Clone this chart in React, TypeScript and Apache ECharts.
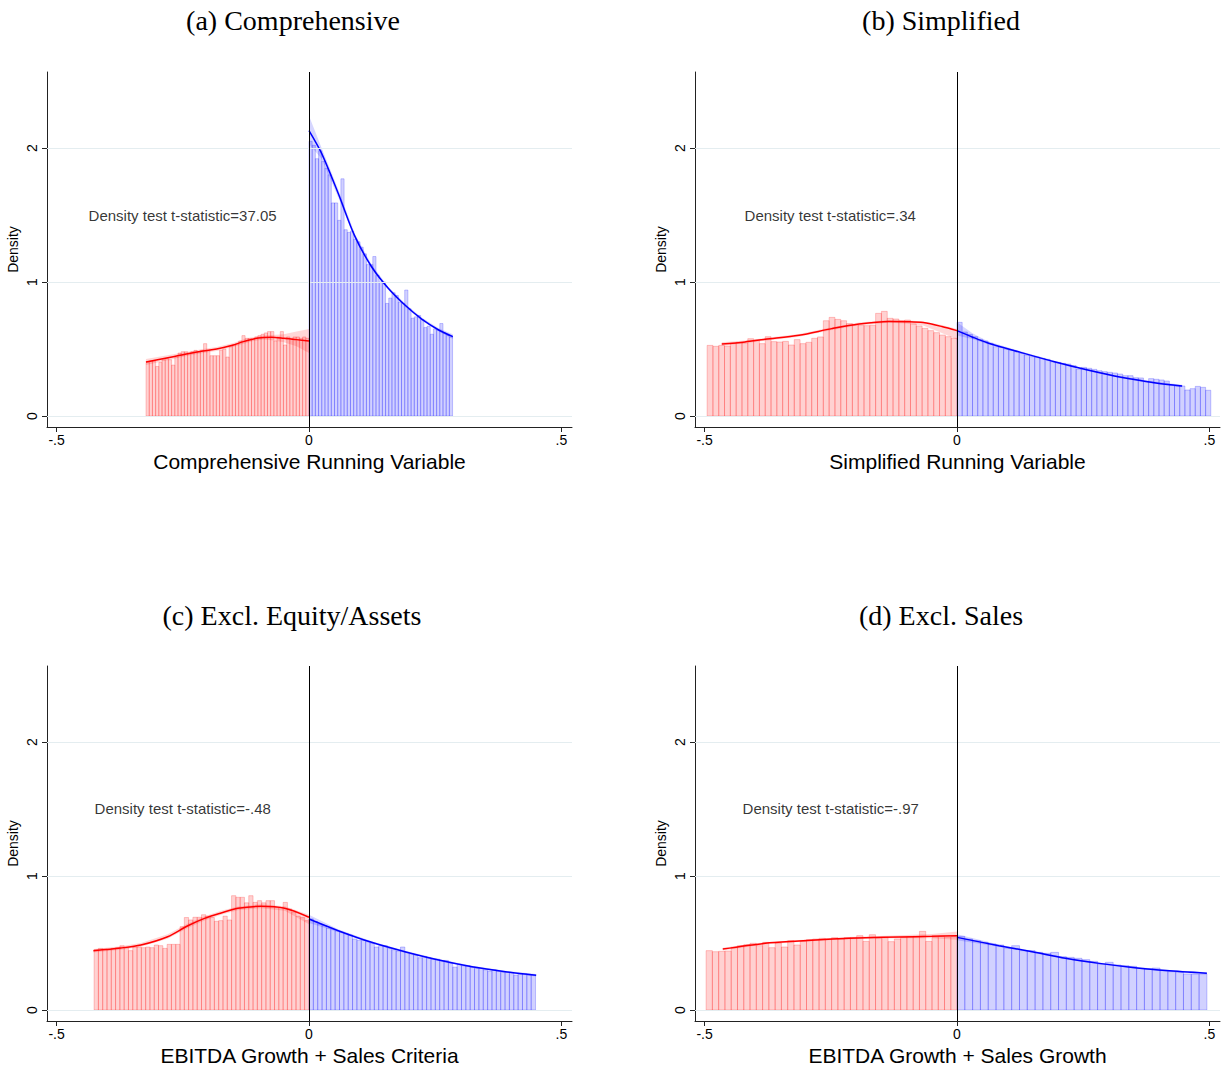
import React, { useEffect, useRef } from "react";
import * as echarts from "echarts";

// ---------- text ----------
const PANEL_TITLES = ["(a) Comprehensive", "(b) Simplified", "(c) Excl. Equity/Assets", "(d) Excl. Sales"];
const X_TITLES = [
  "Comprehensive Running Variable",
  "Simplified Running Variable",
  "EBITDA Growth + Sales Criteria",
  "EBITDA Growth + Sales Growth",
];
const STAT_TEXT = [
  "Density test t-statistic=37.05",
  "Density test t-statistic=.34",
  "Density test t-statistic=-.48",
  "Density test t-statistic=-.97",
];
const STAT_POS = [
  [-0.4376, 1.493],
  [-0.4218, 1.493],
  [-0.4257, 1.5],
  [-0.4257, 1.5],
];
const X_TICKS = [-0.5, 0, 0.5];
const Y_TICKS = [0, 1, 2];

// ---------- histogram bins (start, width) ----------
const A_RED_START = -0.3228, A_RED_BIN = 0.00633;
const A_BLUE_START = 0, A_BLUE_BIN = 0.00632;
const B_RED_START = -0.495, B_RED_BIN = 0.01151;
const B_BLUE_START = 0, B_BLUE_BIN = 0.01026;
const C_RED_START = -0.4257, C_RED_BIN = 0.00851;
const C_BLUE_START = 0, C_BLUE_BIN = 0.00863;
const D_RED_START = -0.497, D_RED_BIN = 0.01243;
const D_BLUE_START = 0, D_BLUE_BIN = 0.01547;

// ---------- histogram heights ----------
const A_RED = [
  0.40, 0.41, 0.41, 0.37, 0.40, 0.42, 0.43, 0.42, 0.38, 0.44,
  0.47, 0.48, 0.48, 0.47, 0.48, 0.49, 0.48, 0.49, 0.54, 0.49,
  0.45, 0.45, 0.45, 0.49, 0.50, 0.44, 0.52, 0.53, 0.54, 0.56,
  0.60, 0.58, 0.58, 0.57, 0.59, 0.60, 0.61, 0.62, 0.63, 0.63,
  0.56, 0.59, 0.63, 0.53, 0.59, 0.58, 0.59, 0.59, 0.58, 0.59,
  0.58,
];
const A_BLUE = [
  2.05, 2.02, 1.92, 1.98, 1.90, 1.85, 1.80, 1.59, 1.59, 1.46,
  1.77, 1.39, 1.37, 1.38, 1.32, 1.30, 1.26, 1.21, 1.13, 1.13,
  1.19, 1.05, 1.00, 1.00, 0.84, 0.88, 0.92, 0.90, 0.85, 0.84,
  0.94, 0.80, 0.73, 0.74, 0.75, 0.72, 0.66, 0.67, 0.61, 0.65,
  0.64, 0.69, 0.62, 0.60, 0.59,
];
const B_RED = [
  0.527, 0.52, 0.527, 0.522, 0.542, 0.55, 0.545, 0.577, 0.565, 0.54,
  0.592, 0.555, 0.552, 0.557, 0.53, 0.57, 0.54, 0.55, 0.58, 0.59,
  0.711, 0.736, 0.721, 0.711, 0.69, 0.684, 0.677, 0.674, 0.677, 0.766,
  0.781, 0.729, 0.724, 0.711, 0.716, 0.687, 0.672, 0.654, 0.637, 0.622,
  0.604, 0.592, 0.58,
];
const B_BLUE = [
  0.699, 0.627, 0.609, 0.592, 0.572, 0.56, 0.542, 0.517, 0.512, 0.5,
  0.493, 0.48, 0.468, 0.455, 0.443, 0.44, 0.43, 0.423, 0.405, 0.4,
  0.393, 0.388, 0.376, 0.348, 0.363, 0.356, 0.348, 0.338, 0.331, 0.326,
  0.321, 0.313, 0.301, 0.301, 0.286, 0.284, 0.256, 0.279, 0.274, 0.269,
  0.261, 0.231, 0.224, 0.224, 0.194, 0.204, 0.221, 0.214, 0.192,
];
const C_RED = [
  0.45, 0.46, 0.455, 0.45, 0.46, 0.465, 0.48, 0.465, 0.443, 0.47,
  0.47, 0.465, 0.47, 0.465, 0.485, 0.48, 0.46, 0.49, 0.49, 0.49,
  0.622, 0.69, 0.672, 0.692, 0.692, 0.711, 0.70, 0.69, 0.662, 0.667,
  0.70, 0.672, 0.853, 0.841, 0.841, 0.80, 0.853, 0.803, 0.816, 0.80,
  0.816, 0.816, 0.766, 0.766, 0.803, 0.754, 0.729, 0.70, 0.69, 0.667,
];
const C_BLUE = [
  0.68, 0.66, 0.64, 0.63, 0.61, 0.60, 0.59, 0.58, 0.57, 0.56,
  0.53, 0.52, 0.52, 0.51, 0.50, 0.47, 0.48, 0.48, 0.46, 0.45,
  0.44, 0.47, 0.43, 0.42, 0.41, 0.39, 0.40, 0.39, 0.38, 0.38,
  0.37, 0.37, 0.35, 0.32, 0.34, 0.33, 0.33, 0.32, 0.31, 0.31,
  0.30, 0.29, 0.30, 0.29, 0.28, 0.28, 0.28, 0.26, 0.27, 0.27,
  0.26, 0.26,
];
const D_RED = [
  0.443, 0.435, 0.438, 0.44, 0.468, 0.48, 0.488, 0.498, 0.48, 0.505,
  0.465, 0.5, 0.47, 0.517, 0.485, 0.512, 0.525, 0.53, 0.535, 0.53,
  0.54, 0.53, 0.54, 0.542, 0.555, 0.512, 0.562, 0.535, 0.542, 0.51,
  0.53, 0.542, 0.547, 0.55, 0.587, 0.512, 0.542, 0.55, 0.542, 0.547,
];
const D_BLUE = [
  0.55, 0.53, 0.517, 0.505, 0.493, 0.485, 0.46, 0.48, 0.443, 0.443,
  0.43, 0.423, 0.43, 0.398, 0.393, 0.386, 0.376, 0.363, 0.343, 0.356,
  0.336, 0.331, 0.326, 0.311, 0.306, 0.313, 0.294, 0.286, 0.281, 0.269,
  0.266, 0.269,
];

// ---------- fitted densities and confidence bands ----------
const A_RED_FX = [-0.323, -0.30, -0.269, -0.24, -0.21, -0.183, -0.15, -0.13, -0.11, -0.09, -0.074, -0.05, -0.025, 0];
const A_RED_FY = [0.403, 0.42, 0.443, 0.465, 0.485, 0.5, 0.53, 0.555, 0.575, 0.585, 0.587, 0.58, 0.57, 0.56];
const A_RED_LO = [0.38, 0.40, 0.425, 0.45, 0.47, 0.485, 0.515, 0.54, 0.56, 0.57, 0.565, 0.55, 0.52, 0.47];
const A_RED_HI = [0.425, 0.44, 0.46, 0.48, 0.50, 0.515, 0.545, 0.57, 0.59, 0.60, 0.605, 0.61, 0.63, 0.65];

const A_BLUE_FX = [0, 0.025, 0.058, 0.091, 0.124, 0.157, 0.19, 0.224, 0.257, 0.285];
const A_BLUE_FY = [2.13, 1.96, 1.66, 1.34, 1.114, 0.953, 0.828, 0.721, 0.642, 0.592];
const A_BLUE_LO = [2.03, 1.92, 1.63, 1.32, 1.10, 0.94, 0.815, 0.71, 0.63, 0.575];
const A_BLUE_HI = [2.24, 2.00, 1.69, 1.36, 1.13, 0.965, 0.84, 0.733, 0.655, 0.61];

const B_RED_FX = [-0.466, -0.42, -0.38, -0.313, -0.248, -0.194, -0.135, -0.1, -0.067, -0.03, 0];
const B_RED_FY = [0.537, 0.553, 0.572, 0.602, 0.652, 0.687, 0.706, 0.704, 0.697, 0.668, 0.637];
const B_RED_LO = [0.525, 0.543, 0.562, 0.592, 0.642, 0.677, 0.696, 0.69, 0.675, 0.62, 0.57];
const B_RED_HI = [0.55, 0.563, 0.582, 0.612, 0.662, 0.697, 0.716, 0.714, 0.706, 0.68, 0.65];

const B_BLUE_FX = [0, 0.03, 0.06, 0.126, 0.193, 0.259, 0.325, 0.391, 0.446];
const B_BLUE_FY = [0.637, 0.59, 0.547, 0.475, 0.405, 0.343, 0.289, 0.249, 0.224];
const B_BLUE_LO = [0.60, 0.575, 0.537, 0.467, 0.397, 0.335, 0.281, 0.241, 0.214];
const B_BLUE_HI = [0.70, 0.62, 0.56, 0.483, 0.413, 0.351, 0.297, 0.257, 0.234];

const C_RED_FX = [-0.427, -0.373, -0.333, -0.28, -0.24, -0.207, -0.174, -0.141, -0.095, -0.048, 0];
const C_RED_FY = [0.443, 0.463, 0.485, 0.547, 0.629, 0.684, 0.724, 0.759, 0.774, 0.759, 0.692];
const C_RED_LO = [0.43, 0.45, 0.472, 0.532, 0.612, 0.668, 0.71, 0.745, 0.76, 0.74, 0.64];
const C_RED_HI = [0.455, 0.476, 0.5, 0.565, 0.646, 0.70, 0.74, 0.773, 0.79, 0.775, 0.71];

const C_BLUE_FX = [0, 0.058, 0.124, 0.19, 0.257, 0.323, 0.389, 0.45];
const C_BLUE_FY = [0.679, 0.592, 0.505, 0.435, 0.373, 0.323, 0.286, 0.259];
const C_BLUE_LO = [0.65, 0.582, 0.497, 0.428, 0.366, 0.316, 0.279, 0.25];
const C_BLUE_HI = [0.71, 0.602, 0.513, 0.442, 0.38, 0.33, 0.293, 0.268];

const D_RED_FX = [-0.464, -0.38, -0.313, -0.247, -0.181, -0.115, -0.05, 0];
const D_RED_FY = [0.455, 0.498, 0.515, 0.53, 0.54, 0.545, 0.55, 0.555];
const D_RED_LO = [0.445, 0.49, 0.507, 0.522, 0.532, 0.535, 0.535, 0.525];
const D_RED_HI = [0.465, 0.506, 0.523, 0.538, 0.548, 0.557, 0.567, 0.585];

const D_BLUE_FX = [0, 0.083, 0.149, 0.215, 0.282, 0.348, 0.414, 0.495];
const D_BLUE_FY = [0.542, 0.48, 0.435, 0.386, 0.348, 0.318, 0.294, 0.274];
const D_BLUE_LO = [0.52, 0.472, 0.428, 0.379, 0.341, 0.311, 0.287, 0.266];
const D_BLUE_HI = [0.565, 0.488, 0.442, 0.393, 0.355, 0.325, 0.301, 0.282];

// ---------- layout / style ----------
const X_MIN = -0.519;
const X_MAX = 0.521;
const Y_MIN = -0.082;
const Y_MAX = 2.567;
const GRID_LEFT = [47, 695, 47, 695];
const GRID_TOP = [72, 72, 666, 666];
const GRID_W = 525;
const GRID_H = 355;
const TITLE_CX = [288, 936, 287, 936];
const TITLE_TOP = [1, 1, 596, 596];
const SANS = "'Liberation Sans', Arial, Helvetica, sans-serif";
const SERIF = "'Liberation Serif', 'Times New Roman', serif";

const RED_FILL = "rgba(255,0,0,0.18)";
const RED_EDGE = "rgba(255,0,0,0.22)";
const BLUE_FILL = "rgba(0,0,255,0.18)";
const BLUE_EDGE = "rgba(0,0,255,0.22)";
const RED_BAND = "rgba(255,0,0,0.16)";
const BLUE_BAND = "rgba(0,0,255,0.16)";

type Side = { start: number; bin: number; h: number[]; fx: number[]; fy: number[]; lo: number[]; hi: number[] };
type Panel = { red: Side; blue: Side };

const PANELS: Panel[] = [
  {
    red: { start: A_RED_START, bin: A_RED_BIN, h: A_RED, fx: A_RED_FX, fy: A_RED_FY, lo: A_RED_LO, hi: A_RED_HI },
    blue: { start: A_BLUE_START, bin: A_BLUE_BIN, h: A_BLUE, fx: A_BLUE_FX, fy: A_BLUE_FY, lo: A_BLUE_LO, hi: A_BLUE_HI },
  },
  {
    red: { start: B_RED_START, bin: B_RED_BIN, h: B_RED, fx: B_RED_FX, fy: B_RED_FY, lo: B_RED_LO, hi: B_RED_HI },
    blue: { start: B_BLUE_START, bin: B_BLUE_BIN, h: B_BLUE, fx: B_BLUE_FX, fy: B_BLUE_FY, lo: B_BLUE_LO, hi: B_BLUE_HI },
  },
  {
    red: { start: C_RED_START, bin: C_RED_BIN, h: C_RED, fx: C_RED_FX, fy: C_RED_FY, lo: C_RED_LO, hi: C_RED_HI },
    blue: { start: C_BLUE_START, bin: C_BLUE_BIN, h: C_BLUE, fx: C_BLUE_FX, fy: C_BLUE_FY, lo: C_BLUE_LO, hi: C_BLUE_HI },
  },
  {
    red: { start: D_RED_START, bin: D_RED_BIN, h: D_RED, fx: D_RED_FX, fy: D_RED_FY, lo: D_RED_LO, hi: D_RED_HI },
    blue: { start: D_BLUE_START, bin: D_BLUE_BIN, h: D_BLUE, fx: D_BLUE_FX, fy: D_BLUE_FY, lo: D_BLUE_LO, hi: D_BLUE_HI },
  },
];

function barSeries(side: Side, idx: number, fill: string, edge: string) {
  const data = side.h.map((h, i) => [side.start + i * side.bin, side.start + (i + 1) * side.bin, h]);
  return {
    type: "custom",
    xAxisIndex: idx,
    yAxisIndex: idx,
    z: 1,
    silent: true,
    encode: { x: [0, 1], y: 2 },
    data,
    renderItem: (_p: any, api: any) => {
      const a = api.coord([api.value(0), api.value(2)]);
      const b = api.coord([api.value(1), 0]);
      return {
        type: "rect",
        shape: { x: a[0], y: a[1], width: b[0] - a[0], height: b[1] - a[1] },
        style: { fill, stroke: edge, lineWidth: 1 },
      };
    },
  };
}

function bandSeries(side: Side, idx: number, fill: string) {
  return {
    type: "custom",
    xAxisIndex: idx,
    yAxisIndex: idx,
    z: 2,
    silent: true,
    encode: { x: 0, y: 1 },
    data: [[side.fx[0], side.fy[0]]],
    renderItem: (_p: any, api: any) => {
      const top = side.fx.map((x, i) => api.coord([x, side.hi[i]]));
      const bot = side.fx.map((x, i) => api.coord([x, side.lo[i]])).reverse();
      return { type: "polygon", shape: { points: top.concat(bot) }, style: { fill } };
    },
  };
}

function lineSeries(side: Side, idx: number, color: string) {
  return {
    type: "line",
    xAxisIndex: idx,
    yAxisIndex: idx,
    z: 3,
    silent: true,
    smooth: 0.3,
    showSymbol: false,
    lineStyle: { color, width: 1.5 },
    data: side.fx.map((x, i) => [x, side.fy[i]]),
  };
}

function buildOption() {
  const grid: any[] = [];
  const xAxis: any[] = [];
  const yAxis: any[] = [];
  const series: any[] = [];
  const title: any[] = [];
  PANELS.forEach((p, i) => {
    grid.push({ left: GRID_LEFT[i], top: GRID_TOP[i], width: GRID_W, height: GRID_H, containLabel: false });
    title.push({
      text: PANEL_TITLES[i],
      left: TITLE_CX[i],
      top: TITLE_TOP[i],
      textAlign: "center",
      textStyle: { fontFamily: SERIF, fontSize: 28, fontWeight: "normal", color: "#000" },
    });
    xAxis.push({
      type: "value",
      gridIndex: i,
      min: X_MIN,
      max: X_MAX,
      name: X_TITLES[i],
      nameLocation: "middle",
      nameGap: 24,
      nameTextStyle: { fontFamily: SANS, fontSize: 21, color: "#000" },
      axisLine: { show: true, onZero: false, lineStyle: { color: "#222", width: 1 } },
      axisTick: { show: true, customValues: X_TICKS, length: 5, lineStyle: { color: "#222" } },
      axisLabel: {
        show: true,
        customValues: X_TICKS,
        margin: 6,
        fontFamily: SANS,
        fontSize: 14,
        color: "#000",
        formatter: (v: number) => String(v).replace("0.", "."),
      },
      splitLine: { show: false },
    });
    yAxis.push({
      type: "value",
      gridIndex: i,
      min: Y_MIN,
      max: Y_MAX,
      name: "Density",
      nameLocation: "middle",
      nameGap: 27,
      nameRotate: 90,
      nameTextStyle: { fontFamily: SANS, fontSize: 14, color: "#000" },
      axisLine: { show: true, onZero: false, lineStyle: { color: "#222", width: 1 } },
      axisTick: { show: true, customValues: Y_TICKS, length: 5, lineStyle: { color: "#222" } },
      axisLabel: {
        show: true,
        customValues: Y_TICKS,
        rotate: 90,
        margin: 8,
        fontFamily: SANS,
        fontSize: 14,
        color: "#000",
      },
      splitLine: { show: false },
    });
    // grid lines
    series.push({
      type: "line",
      xAxisIndex: i,
      yAxisIndex: i,
      z: 0,
      silent: true,
      data: [],
      markLine: {
        silent: true,
        symbol: "none",
        animation: false,
        label: { show: false },
        lineStyle: { color: "#E4EDF0", width: 1, type: "solid" },
        data: Y_TICKS.map((v) => ({ yAxis: v })),
      },
    });
    series.push(barSeries(p.red, i, RED_FILL, RED_EDGE));
    series.push(barSeries(p.blue, i, BLUE_FILL, BLUE_EDGE));
    series.push(bandSeries(p.red, i, RED_BAND));
    series.push(bandSeries(p.blue, i, BLUE_BAND));
    series.push(lineSeries(p.red, i, "#FF0000"));
    series.push(lineSeries(p.blue, i, "#0000FF"));
    // cutoff line
    series.push({
      type: "line",
      xAxisIndex: i,
      yAxisIndex: i,
      z: 5,
      silent: true,
      data: [],
      markLine: {
        silent: true,
        symbol: "none",
        animation: false,
        label: { show: false },
        lineStyle: { color: "#000", width: 1, type: "solid" },
        data: [{ xAxis: 0 }],
      },
    });
    // annotation
    series.push({
      type: "scatter",
      xAxisIndex: i,
      yAxisIndex: i,
      z: 6,
      silent: true,
      symbolSize: 1,
      itemStyle: { color: "rgba(0,0,0,0)" },
      data: [STAT_POS[i]],
      label: {
        show: true,
        position: "right",
        distance: 0,
        formatter: STAT_TEXT[i],
        fontFamily: SANS,
        fontSize: 15,
        color: "#000",
      },
    });
  });
  return { animation: false, backgroundColor: "#fff", title, grid, xAxis, yAxis, series };
}

export default function App() {
  const ref = useRef<HTMLDivElement>(null);
  useEffect(() => {
    if (!ref.current) return;
    const chart = echarts.init(ref.current, null, { renderer: "svg" });
    chart.setOption(buildOption() as any);
    return () => chart.dispose();
  }, []);
  return (
    <div
      ref={ref}
      style={{ position: "absolute", left: 0, top: 0, width: 1225, height: 1070, background: "#fff" }}
    />
  );
}
